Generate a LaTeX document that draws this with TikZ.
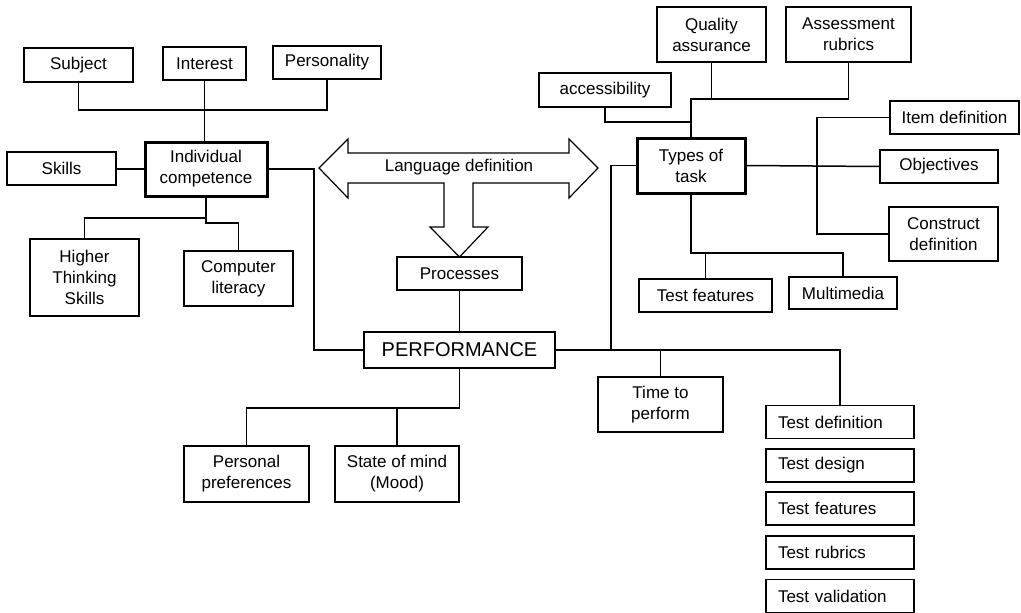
\documentclass[tikz,border=0pt]{standalone}
\usepackage{fontspec}
\setmainfont{Liberation Sans}
\begin{document}
\begin{tikzpicture}[x=1pt,y=-1pt,
  box/.style={draw,line width=1.5pt,inner sep=0pt,align=center,font=\fontsize{17}{21}\selectfont},
  bigbox/.style={box,line width=3pt},
  testbox/.style={draw,line width=1.5pt,inner xsep=12pt,inner ysep=0pt,text width=124pt,align=left,minimum height=33pt,font=\fontsize{17}{21}\selectfont},
  link/.style={line width=1.5pt}]
\useasboundingbox (0,0) rectangle (1021,613);
% left cluster
\node[box,minimum width=109pt,minimum height=34pt] (subj) at (78.5,65) {Subject};
\node[box,minimum width=83pt,minimum height=33pt] (inter) at (204.5,63.5) {Interest};
\node[box,minimum width=108pt,minimum height=33pt] (pers) at (327,62.5) {Personality};
\node[bigbox,minimum width=122pt,minimum height=54pt] (ic) at (206,169) {Individual\\competence};
\node[box,minimum width=109pt,minimum height=33pt] (skills) at (61.5,168.5) {Skills};
\node[box,minimum width=109pt,minimum height=77pt] (hts) at (84.5,277.5) {Higher\\Thinking\\Skills};
\node[box,minimum width=109pt,minimum height=55pt] (cl) at (238.5,278.5) {Computer\\literacy};
% centre
\node[box,minimum width=125pt,minimum height=33pt] (proc) at (459.5,273.5) {Processes};
\node[box,minimum width=191pt,minimum height=36pt,font=\fontsize{20}{24}\selectfont] (perf) at (459.5,350) {PERFORMANCE};
\node[box,minimum width=125pt,minimum height=56pt] (pp) at (246.5,474) {Personal\\preferences};
\node[box,minimum width=124pt,minimum height=56pt] (som) at (397,474) {State of mind\\(Mood)};
\node[box,minimum width=125pt,minimum height=55pt] (ttp) at (660.5,404.5) {Time to\\perform};
% test boxes
\node[testbox] (tdef) at (840,422) {Test definition};
\node[testbox] (tdes) at (840,465.5) {Test design};
\node[testbox] (tfea) at (840,508.5) {Test features};
\node[testbox] (trub) at (840,552.5) {Test rubrics};
\node[testbox] (tval) at (840,596) {Test validation};
% right cluster
\node[box,minimum width=109pt,minimum height=55pt] (qa) at (711.5,34.5) {Quality\\assurance};
\node[box,minimum width=125pt,minimum height=55pt] (ar) at (848.5,34.5) {Assessment\\rubrics};
\node[box,minimum width=132pt,minimum height=34pt] (acc) at (605,90) {accessibility};
\node[bigbox,minimum width=108pt,minimum height=55pt] (tot) at (691,165.5) {Types of\\task};
\node[box,minimum width=129pt,minimum height=33pt] (itemdef) at (954.5,117.5) {Item definition};
\node[box,minimum width=118pt,minimum height=33pt] (obj) at (939,166.5) {Objectives};
\node[box,minimum width=109pt,minimum height=54pt] (cd) at (943.5,234) {Construct\\definition};
\node[box,minimum width=133pt,minimum height=33pt] (tf) at (705.5,295.5) {Test features};
\node[box,minimum width=108pt,minimum height=32pt] (mm) at (843,293) {Multimedia};
% language definition arrow
\draw[line width=1.2pt,fill=white] (319,168) -- (348,139) -- (348,153) -- (569,153) -- (569,139) -- (598,168)
  -- (569,198) -- (569,183) -- (473,183) -- (473,227) -- (488,227) -- (459.5,257) -- (430,227)
  -- (444,227) -- (444,183) -- (348,183) -- (348,198) -- cycle;
\node[font=\fontsize{17}{21}\selectfont] (lang) at (459,167) {Language definition};
% coordinates
\coordinate (jt) at (205,110);
\coordinate (icb1) at (206,218);
\coordinate (icb2) at (206,223);
\coordinate (lc) at (314,350);
\coordinate (rj) at (611,350);
\coordinate (pb) at (459.5,408);
\coordinate (tt) at (691,99);
\coordinate (ta) at (691,122);
\coordinate (vb) at (817,165.5);
\coordinate (tb) at (691,253);
% connectors
\draw[link] (subj.south) |- (jt) -| (pers.south);
\draw[link] (inter.south) -- (inter.south |- ic.north);
\draw[link] (ic.west) -- (ic.west -| skills.east);
\draw[link] (ic.south) -- (icb1) -| (hts.north);
\draw[link] (icb1) -- (icb2) -| (cl.north);
\draw[link] (ic.east) -| (lc) -- (perf.west);
\draw[link] (proc.south) -- (perf.north);
\draw[link] (perf.east) -- (rj) |- (tot.west);
\draw[link] (rj) -| (tdef.north);
\draw[link] (ttp.north) -- (ttp.north |- rj);
\draw[link] (perf.south) -- (pb) -| (pp.north);
\draw[link] (som.north) -- (som.north |- pb);
\draw[link] (tot.north) -- (tt) -| (ar.south);
\draw[link] (qa.south) -- (qa.south |- tt);
\draw[link] (acc.south) |- (ta);
\draw[link] (tot.east) -- (obj.west);
\draw[link] (itemdef.west) -- (itemdef.west -| vb) -- (cd.west -| vb) -- (cd.west);
\draw[link] (tot.south) -- (tb) -| (mm.north);
\draw[link] (tf.north) -- (tf.north |- tb);
\end{tikzpicture}
\end{document}
